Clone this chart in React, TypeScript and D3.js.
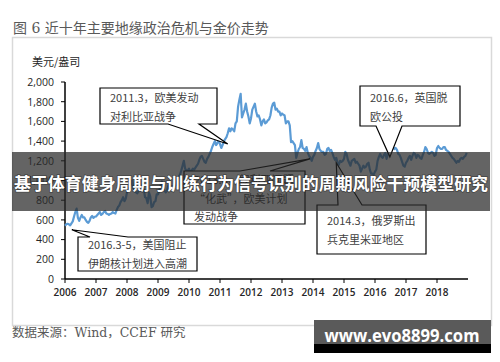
import React from "react"
import * as d3 from "d3"

// Gold price, USD/oz, two readings per month, 2006-2018
const gold2006 = [540, 555, 560, 555, 545, 565, 585, 635, 680, 715, 620, 590, 625, 650, 625, 625, 600, 580, 570, 590, 625, 640, 620, 632]
const gold2007 = [635, 650, 665, 680, 650, 660, 680, 690, 665, 660, 650, 660, 665, 680, 670, 665, 700, 730, 745, 780, 800, 830, 790, 815]
const gold2008 = [880, 920, 920, 970, 1000, 920, 900, 880, 870, 895, 910, 935, 960, 910, 830, 820, 770, 880, 840, 730, 740, 780, 790, 860]
const gold2009 = [860, 900, 950, 990, 920, 900, 880, 900, 950, 955, 920, 940, 920, 950, 950, 1000, 1040, 1060, 1100, 1150, 1200, 1120, 1100, 1100]
const gold2010 = [1120, 1080, 1100, 1120, 1110, 1130, 1150, 1170, 1210, 1240, 1250, 1220, 1190, 1180, 1220, 1240, 1270, 1300, 1340, 1370, 1400, 1360, 1380, 1410]
const gold2011 = [1370, 1330, 1360, 1400, 1420, 1440, 1480, 1530, 1500, 1530, 1520, 1500, 1580, 1600, 1750, 1820, 1880, 1640, 1680, 1720, 1780, 1700, 1650, 1580]
const gold2012 = [1630, 1720, 1750, 1780, 1700, 1650, 1660, 1620, 1560, 1600, 1620, 1580, 1590, 1610, 1620, 1660, 1740, 1780, 1790, 1720, 1730, 1700, 1700, 1660]
const gold2013 = [1680, 1670, 1660, 1580, 1600, 1600, 1560, 1390, 1400, 1380, 1360, 1230, 1280, 1320, 1340, 1410, 1330, 1320, 1300, 1340, 1280, 1250, 1230, 1200]
const gold2014 = [1240, 1260, 1300, 1330, 1380, 1320, 1300, 1290, 1290, 1260, 1270, 1320, 1330, 1300, 1310, 1280, 1240, 1210, 1230, 1180, 1160, 1200, 1190, 1200]
const gold2015 = [1220, 1290, 1270, 1210, 1180, 1150, 1200, 1210, 1220, 1180, 1190, 1170, 1150, 1090, 1120, 1150, 1130, 1140, 1170, 1180, 1110, 1070, 1070, 1060]
const gold2016 = [1090, 1110, 1200, 1240, 1270, 1240, 1230, 1260, 1280, 1220, 1270, 1320, 1340, 1370, 1340, 1320, 1330, 1310, 1270, 1260, 1230, 1190, 1150, 1140]
const gold2017 = [1180, 1200, 1230, 1250, 1210, 1250, 1280, 1270, 1230, 1260, 1250, 1230, 1220, 1260, 1290, 1340, 1320, 1280, 1270, 1280, 1290, 1280, 1250, 1260]
const gold2018 = [1330, 1350, 1330, 1320, 1320, 1340, 1340, 1310, 1300, 1290, 1270, 1250, 1230, 1220, 1200, 1180, 1200, 1190, 1220, 1230, 1220, 1240, 1250, 1280]

const startYears = [2006, 2007, 2008, 2009, 2010, 2011, 2012, 2013, 2014, 2015, 2016, 2017, 2018]
const goldByYear = [gold2006, gold2007, gold2008, gold2009, gold2010, gold2011, gold2012, gold2013, gold2014, gold2015, gold2016, gold2017, gold2018]

const yTicks = [0, 200, 400, 600, 800, 1000, 1200, 1400, 1600, 1800, 2000]
const xTicks = [2006, 2007, 2008, 2009, 2010, 2011, 2012, 2013, 2014, 2015, 2016, 2017, 2018]

const title = "图 6  近十年主要地缘政治危机与金价走势"
const unitLabel = "美元/盎司"
const sourceLabel = "数据来源：Wind，CCEF 研究"
const bannerLabel = "基于体育健身周期与训练行为信号识别的周期风险干预模型研究"
const watermark = "www.evo8899.com"

// Callouts: text lines, box [x, y, w, h], first baseline offset, pointer side, pointer base, point (year, value)
const notes = [
  { lines: ["2011.3，欧美发动", "对利比亚战争"], box: [100, 88, 117, 36], first: 14, side: "bottom", base: [168, 199], at: [2011.25, 1370] },
  { lines: ["2016.6，英国脱", "欧公投"], box: [360, 86, 100, 40], first: 16, side: "bottom", base: [376, 402], at: [2016.48, 1240] },
  { lines: ["2016.3-5，美国阻止", "伊朗核计划进入高潮"], box: [78, 237, 119, 34], first: 12, side: "top", base: [90, 128], at: [2006.22, 500] },
  { lines: ["2013.8，叙利亚问题", "“化武”，欧美计划", "发动战争"], box: [184, 171, 121, 53], first: 13, side: "top", base: [240, 270], at: [2013.9, 1220] },
  { lines: ["2014.3，俄罗斯出", "兵克里米亚地区"], box: [317, 205, 109, 49], first: 20, side: "top", base: [338, 362], at: [2014.75, 1180] },
]

const calloutPath = (x: number, y: number, w: number, h: number, side: string, b1: number, b2: number, tx: number, ty: number) => {
  if (side === "bottom") {
    return `M${x},${y}H${x + w}V${y + h}H${b2}L${tx},${ty}L${b1},${y + h}H${x}Z`
  }
  return `M${x},${y}H${b1}L${tx},${ty}L${b2},${y}H${x + w}V${y + h}H${x}Z`
}

export default function App() {
  const W = 500
  const H = 362

  const x = d3.scaleLinear().domain([2006, 2019]).range([65, 468])
  const y = d3.scaleLinear().domain([0, 2000]).range([279, 82])

  const points: [number, number][] = []
  goldByYear.forEach((vals, k) => {
    vals.forEach((v, i) => points.push([startYears[k] + i / 24, v]))
  })

  const line = d3
    .line<[number, number]>()
    .x(d => x(d[0]))
    .y(d => y(d[1]))

  const sans = "'Open Sans', 'Noto Sans CJK SC', sans-serif"
  const cjk = "'Noto Sans CJK SC', 'Open Sans', sans-serif"
  const serif = "'DejaVu Serif', 'Noto Sans CJK SC', serif"

  return (
    <svg width={W} height={H} style={{ position: "absolute", left: 0, top: 0, background: "#fff" }}>
      <text x={13} y={33} fontSize={14} fill="#595959" fontFamily={serif}>{title}</text>

      {/* chart frame */}
      <rect x={12.5} y={37.5} width={479} height={288} fill="#fff" stroke="#d9d9d9" strokeWidth={1.5} />

      <text x={32} y={66} fontSize={11} fill="#262626" fontFamily={cjk}>{unitLabel}</text>

      {/* y axis */}
      <line x1={x(2006)} x2={x(2006)} y1={y(2000)} y2={y(0)} stroke="#000" strokeWidth={1.5} />
      {yTicks.map(t => (
        <g key={`y-${t}`}>
          <line x1={x(2006) - 4} x2={x(2006)} y1={y(t)} y2={y(t)} stroke="#000" strokeWidth={1} />
          <text x={54} y={y(t) + 3.8} fontSize={10.5} textAnchor="end" fill="#262626" fontFamily={sans}>
            {d3.format(",")(t)}
          </text>
        </g>
      ))}

      {/* x axis */}
      <line x1={x(2006)} x2={x(2019)} y1={y(0)} y2={y(0)} stroke="#000" strokeWidth={1.5} />
      {xTicks.map(t => (
        <g key={`x-${t}`}>
          <line x1={x(t)} x2={x(t)} y1={y(0)} y2={y(0) + 4} stroke="#000" strokeWidth={1} />
          <text x={x(t)} y={y(0) + 17} fontSize={10} fontWeight={600} textAnchor="middle" fill="#262626" fontFamily={sans}>
            {t}
          </text>
        </g>
      ))}

      <path d={line(points) || ""} fill="none" stroke="#5b9bd5" strokeWidth={2.2} strokeLinejoin="round" />

      {/* callouts */}
      {notes.map((n, i) => {
        const [bx, by, bw, bh] = n.box
        return (
          <g key={`note-${i}`}>
            <path
              d={calloutPath(bx, by, bw, bh, n.side, n.base[0], n.base[1], x(n.at[0]), y(n.at[1]))}
              fill="#fff"
              stroke="#000"
              strokeWidth={1.2}
              strokeLinejoin="miter"
            />
            {n.lines.map((s, j) => (
              <text key={j} x={bx + 10} y={by + n.first + j * 18.5} fontSize={11} fill="#404040" fontFamily={cjk}>
                {s}
              </text>
            ))}
          </g>
        )
      })}

      <text x={12} y={337} fontSize={12.5} fill="#595959" fontFamily={serif}>{sourceLabel}</text>

      {/* overlay banner */}
      <rect x={12} y={152} width={478} height={59} fill="rgba(40,40,40,0.72)" />
      <text x={251} y={190} fontSize={17} fontWeight={700} textAnchor="middle" fill="#fff" fontFamily={cjk}
        textLength={474} lengthAdjust="spacingAndGlyphs"
        style={{ paintOrder: "stroke" }} stroke="rgba(0,0,0,0.35)" strokeWidth={1.5}>
        {bannerLabel}
      </text>

      {/* watermark */}
      <rect x={314} y={320} width={177} height={24} fill="#5a5a5a" />
      <rect x={314} y={344} width={177} height={9} fill="#000" />
      <text x={402} y={342} fontSize={17} fontWeight={700} textAnchor="middle" fill="#fff" fontFamily={sans}
        textLength={155} lengthAdjust="spacingAndGlyphs">
        {watermark}
      </text>
    </svg>
  )
}
